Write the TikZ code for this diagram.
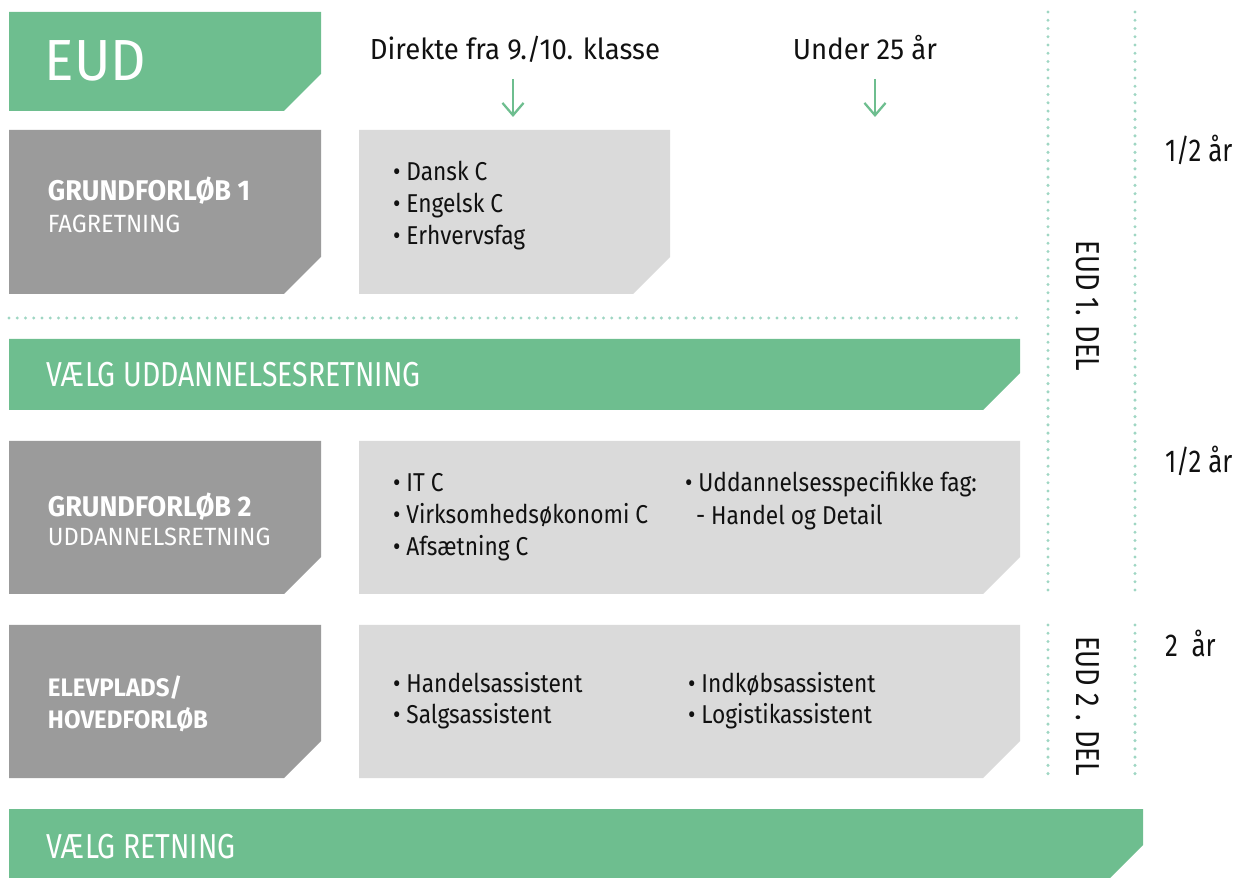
\documentclass[tikz,border=0pt]{standalone}
\usepackage{fontspec}
\setmainfont{Fira Sans}[FakeStretch=0.82]
\newfontfamily\narrowfont{Fira Sans}[FakeStretch=0.82]
\newfontfamily\midfont{Fira Sans}[FakeStretch=0.88]
\newfontfamily\widefont{Fira Sans}[FakeStretch=0.95]
\usetikzlibrary{arrows.meta}
\definecolor{eudgreen}{HTML}{6EBE8F}
\definecolor{boxgray}{HTML}{9B9B9B}
\definecolor{lightgray}{HTML}{DADADA}
\definecolor{dotcolor}{HTML}{9FD6C3}
\definecolor{inkcolor}{HTML}{111111}

\begin{document}
\begin{tikzpicture}[x=0.02cm, y=-0.02cm,
    every node/.style={inner sep=0pt, outer sep=0pt},
    big/.style={font=\widefont\fontsize{33}{36}\selectfont, text=white},
    band/.style={font=\narrowfont\fontsize{19.7}{22}\selectfont, text=white},
    head/.style={font=\widefont\fontsize{16.5}{19}\selectfont, text=inkcolor},
    dur/.style={font=\narrowfont\fontsize{18}{20}\selectfont, text=inkcolor},
    boxtitle/.style={font=\widefont\bfseries\fontsize{16.2}{19}\selectfont, text=white},
    boxsmall/.style={font=\widefont\bfseries\fontsize{14.4}{17}\selectfont, text=white},
    boxsub/.style={font=\widefont\fontsize{14.2}{17}\selectfont, text=white},
    item/.style={font=\midfont\fontsize{14.7}{18}\selectfont, text=inkcolor},
    partlabel/.style={font=\narrowfont\fontsize{18.9}{21}\selectfont, text=inkcolor, rotate=-90},
    dotline/.style={dotcolor, line width=1.9pt, line cap=round, dash pattern=on 0pt off 4.7pt},
    arr/.style={eudgreen, line width=1.3pt, -{Straight Barb[length=7pt, width=12pt]}},
]
\def\cutbox#1#2#3#4#5#6{\fill[#1] (#2,#3) -- (#4,#3) -- (#4,{#5-#6}) -- ({#4-#6},#5) -- (#2,#5) -- cycle;}

\useasboundingbox (0,0) rectangle (1235,878);

% the blocks
\cutbox{eudgreen}{9}{12}{321}{111}{37}
\cutbox{boxgray}{9}{130}{321}{294}{37}
\cutbox{lightgray}{359}{130}{670}{294}{37}
\cutbox{eudgreen}{9}{339}{1020}{410}{37}
\cutbox{boxgray}{9}{441}{321}{594}{37}
\cutbox{lightgray}{359}{441}{1020}{594}{37}
\cutbox{boxgray}{9}{625}{321}{778}{37}
\cutbox{lightgray}{359}{625}{1020}{778}{37}
\cutbox{eudgreen}{9}{809}{1143}{878}{33}

% dotted dividers
\draw[dotline] (9,318) -- (1020,318);
\draw[dotline] (1048,12) -- (1048,594);
\draw[dotline] (1135,12) -- (1135,594);
\draw[dotline] (1048,625) -- (1048,778);
\draw[dotline] (1135,625) -- (1135,778);

\node[big, anchor=base west] (eud) at (45,81) {EUD};
\node[head, anchor=base] (direkte) at (515,60) {Direkte fra 9./10. klasse};
\node[head, anchor=base] (under) at (865,60) {Under 25 år};
\coordinate (dir from) at (513,79);
\coordinate (dir to) at (513,117);
\coordinate (und from) at (875,79);
\coordinate (und to) at (875,117);
\draw[arr] (dir from) -- (dir to);
\draw[arr] (und from) -- (und to);

% grundforloeb 1
\node[boxtitle, anchor=base west] (gf1) at (48,201) {GRUNDFORLØB 1};
\node[boxsub, anchor=base west] (gf1 sub) at (48,233) {FAGRETNING};
\foreach \t [count=\i from 0] in {Dansk C, Engelsk C, Erhvervsfag}{
    \node[item, anchor=base west] (gf1 item\i) at (393, {181+32*\i}) {• \t};
}

\node[band, anchor=base west] (vaelg1) at (47,387) {VÆLG UDDANNELSESRETNING};

% grundforloeb 2
\node[boxtitle, anchor=base west] (gf2) at (48,517) {GRUNDFORLØB 2};
\node[boxsub, anchor=base west] (gf2 sub) at (48,546) {UDDANNELSRETNING};
\foreach \t [count=\i from 0] in {IT C, Virksomhedsøkonomi C, Afsætning C}{
    \node[item, anchor=base west] (gf2 item\i) at (393, {492+32*\i}) {• \t};
}
\node[item, anchor=base west] (gf2 spec) at (685,492) {• Uddannelsesspecifikke fag:};
\node[item, anchor=base west] (gf2 hd) at (696,525) {- Handel og Detail};

% elevplads
\node[boxsmall, anchor=base west] (elev) at (48,697) {ELEVPLADS/};
\node[boxsmall, anchor=base west] (hoved) at (48,728) {HOVEDFORLØB};
\foreach \t/\u [count=\i from 0] in {Handelsassistent/Indkøbsassistent, Salgsassistent/Logistikassistent}{
    \node[item, anchor=base west] (elev a\i) at (393, {692+32*\i}) {• \t};
    \node[item, anchor=base west] (elev b\i) at (688, {692+32*\i}) {• \u};
}

\node[band, anchor=base west] (vaelg2) at (47,858) {VÆLG RETNING};

% parts and durations
\node[partlabel] (del1) at (1088,306) {EUD 1. DEL};
\node[partlabel] (del2) at (1088,706) {EUD 2 . DEL};
\node[dur, anchor=base west] (half1) at (1165,162) {1/2 år};
\node[dur, anchor=base west] (half2) at (1165,473) {1/2 år};
\node[dur, anchor=base west] (two) at (1165,657) {2~~år};
\end{tikzpicture}
\end{document}
